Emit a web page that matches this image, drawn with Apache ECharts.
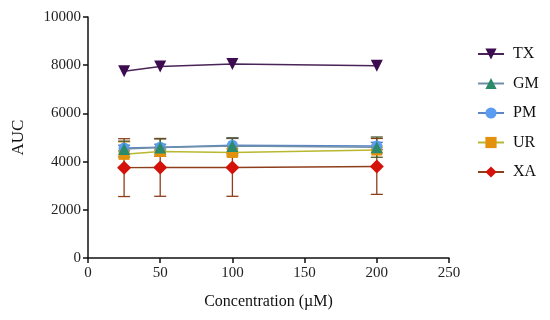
<!DOCTYPE html>
<html><head><meta charset="utf-8">
<script src="https://cdn.jsdelivr.net/npm/echarts@6/dist/echarts.min.js"></script>
<style>html,body{margin:0;padding:0;background:#fff}#c{width:550px;height:320px}</style>
</head><body><div id="c"></div>
<script>
var conc = [25, 50, 100, 200];
var seriesNames = ['TX', 'GM', 'PM', 'UR', 'XA'];
var TX = [7750, 7950, 8050, 7980];
var GM = [4520, 4580, 4650, 4600];
var PM = [4560, 4600, 4680, 4650];
var UR = [4300, 4420, 4380, 4480];
var XA = [3750, 3760, 3760, 3800];
var TXerr = [0, 0, 0, 0];
var GMerr = [330, 360, 330, 420];
var PMerr = [120, 120, 300, 150];
var URerr = [520, 120, 150, 120];
var XAerr = [1200, 1200, 1200, 1160];
var xTicks = [0, 50, 100, 150, 200, 250];
var yTicks = [0, 2000, 4000, 6000, 8000, 10000];

var styles = {
  TX: {color: '#3d0b4f', line: '#4a2458', err: '#3d0b4f', symbol: 'triangle', rotate: 180, size: 12},
  GM: {color: '#2a8a6a', line: '#6f8fa8', err: '#4f5a2a', symbol: 'triangle', rotate: 0, size: 12},
  PM: {color: '#5a9cf2', line: '#5a86c8', err: '#4a6fa8', symbol: 'circle', rotate: 0, size: 11},
  UR: {color: '#e3900c', line: '#b8b830', err: '#d08a10', symbol: 'rect', rotate: 0, size: 11},
  XA: {color: '#d4120a', line: '#8f3e1c', err: '#8f3e1c', symbol: 'diamond', rotate: 0, size: 14}
};
var vals = {TX: TX, GM: GM, PM: PM, UR: UR, XA: XA};
var errs = {TX: TXerr, GM: GMerr, PM: PMerr, UR: URerr, XA: XAerr};

function errSeries(name) {
  var st = styles[name];
  return {
    type: 'custom', name: name + '_err', z: 2,
    data: conc.map(function (c, i) { return [c, vals[name][i] - errs[name][i], vals[name][i] + errs[name][i]]; }),
    renderItem: function (params, api) {
      if (api.value(2) - api.value(1) <= 0) return null;
      var lo = api.coord([api.value(0), api.value(1)]);
      var hi = api.coord([api.value(0), api.value(2)]);
      var w = 6;
      var s = {stroke: st.err, lineWidth: 1.3};
      return {type: 'group', children: [
        {type: 'line', shape: {x1: lo[0], y1: lo[1], x2: hi[0], y2: hi[1]}, style: s},
        {type: 'line', shape: {x1: lo[0] - w, y1: lo[1], x2: lo[0] + w, y2: lo[1]}, style: s},
        {type: 'line', shape: {x1: hi[0] - w, y1: hi[1], x2: hi[0] + w, y2: hi[1]}, style: s}
      ]};
    },
    encode: {x: 0, y: [1, 2]},
    silent: true
  };
}
function lineSeries(name, z) {
  var st = styles[name];
  return {
    type: 'line', name: name, z: z,
    data: conc.map(function (c, i) { return [c, vals[name][i]]; }),
    symbol: st.symbol, symbolRotate: st.rotate, symbolSize: st.size,
    itemStyle: {color: st.color, opacity: 1},
    lineStyle: {color: st.line, width: 1.5},
    animation: false
  };
}
var drawOrder = ['XA', 'UR', 'PM', 'GM', 'TX'];
var series = [];
drawOrder.forEach(function (n) { series.push(errSeries(n)); });
drawOrder.forEach(function (n, k) { series.push(lineSeries(n, 3 + k)); });

var font = 'Liberation Serif';
var chart = echarts.init(document.getElementById('c'));
chart.setOption({
  animation: false,
  textStyle: {fontFamily: font},
  grid: {left: 88, right: 101, top: 17, bottom: 62},
  xAxis: {
    type: 'value', min: xTicks[0], max: xTicks[xTicks.length - 1], interval: 50,
    name: 'Concentration (\u00b5M)', nameLocation: 'middle', nameGap: 36,
    nameTextStyle: {fontFamily: font, fontSize: 16, color: '#111'},
    axisLine: {show: true, onZero: false, lineStyle: {color: '#111', width: 1.5}},
    axisTick: {show: true, length: 5, lineStyle: {color: '#111', width: 1.5}},
    axisLabel: {fontFamily: font, fontSize: 15, color: '#222', margin: 8},
    splitLine: {show: false}
  },
  yAxis: {
    type: 'value', min: yTicks[0], max: yTicks[yTicks.length - 1], interval: 2000,
    name: 'AUC', nameLocation: 'middle', nameGap: 61, nameRotate: 90,
    nameTextStyle: {fontFamily: font, fontSize: 17, color: '#111'},
    axisLine: {show: true, onZero: false, lineStyle: {color: '#111', width: 1.5}},
    axisTick: {show: true, length: 5, lineStyle: {color: '#111', width: 1.5}},
    axisLabel: {fontFamily: font, fontSize: 15, color: '#222', margin: 7,
      formatter: function (v) { return String(v); }},
    splitLine: {show: false}
  },
  legend: {
    orient: 'vertical', left: 472, top: 41, itemGap: 13.5, itemWidth: 26, itemHeight: 14,
    data: seriesNames,
    textStyle: {fontFamily: font, fontSize: 16, color: '#111', padding: [0, 0, 0, 4]}
  },
  series: series
});
</script></body></html>
